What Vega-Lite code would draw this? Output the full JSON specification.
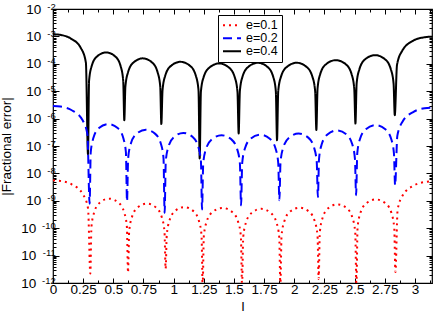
{
  "$schema": "https://vega.github.io/schema/vega-lite/v6.json",
  "width": 379,
  "height": 274,
  "autosize": "none",
  "padding": {"left": 53, "top": 9, "right": 4, "bottom": 30},
  "background": "white",
  "config": {
    "font": "Liberation Sans",
    "view": {"stroke": "black", "strokeWidth": 1.2},
    "axis": {"domain": false, "grid": false, "tickColor": "black", "tickWidth": 1, "labelColor": "black", "titleColor": "black", "labelFontSize": 13.5, "titleFontSize": 13.5, "titleFontWeight": "normal", "labelFont": "Liberation Sans", "titleFont": "Liberation Sans", "labelOverlap": false, "labelFlush": false},
    "legend": {"orient": "none", "legendX": 165, "legendY": 6, "strokeColor": "black", "fillColor": "white", "padding": 4, "symbolType": "stroke", "symbolStrokeWidth": 2, "symbolSize": 324, "labelFontSize": 12.5, "labelFont": "Liberation Sans", "labelColor": "black", "rowPadding": 0, "clipHeight": 12.7, "title": null, "cornerRadius": 0}
  },
  "data": {"values": [
    {"e":"e=0.4","l":0,"err":1.2e-3},{"e":"e=0.4","l":0.058,"err":1.14e-3},{"e":"e=0.4","l":0.145,"err":8.5e-4},{"e":"e=0.4","l":0.232,"err":3.7e-4},{"e":"e=0.4","l":0.2726,"err":1.1e-4},{"e":"e=0.4","l":0.290,"err":5.0e-8},
    {"e":"e=0.4","l":0.299,"err":2.4e-5},{"e":"e=0.4","l":0.320,"err":8.1e-5},{"e":"e=0.4","l":0.365,"err":1.85e-4},{"e":"e=0.4","l":0.4405,"err":2.6e-4},{"e":"e=0.4","l":0.516,"err":1.85e-4},{"e":"e=0.4","l":0.561,"err":8.1e-5},{"e":"e=0.4","l":0.582,"err":2.4e-5},{"e":"e=0.4","l":0.591,"err":8.7e-7},
    {"e":"e=0.4","l":0.600,"err":1.47e-5},{"e":"e=0.4","l":0.622,"err":4.9e-5},{"e":"e=0.4","l":0.668,"err":1.12e-4},{"e":"e=0.4","l":0.7445,"err":1.58e-4},{"e":"e=0.4","l":0.821,"err":1.12e-4},{"e":"e=0.4","l":0.867,"err":4.9e-5},{"e":"e=0.4","l":0.889,"err":1.47e-5},{"e":"e=0.4","l":0.898,"err":6.3e-7},
    {"e":"e=0.4","l":0.908,"err":1.1e-5},{"e":"e=0.4","l":0.930,"err":3.66e-5},{"e":"e=0.4","l":0.978,"err":8.4e-5},{"e":"e=0.4","l":1.057,"err":1.18e-4},{"e":"e=0.4","l":1.1365,"err":8.4e-5},{"e":"e=0.4","l":1.184,"err":3.66e-5},{"e":"e=0.4","l":1.206,"err":1.1e-5},{"e":"e=0.4","l":1.216,"err":3.5e-8},
    {"e":"e=0.4","l":1.226,"err":9.6e-6},{"e":"e=0.4","l":1.248,"err":3.2e-5},{"e":"e=0.4","l":1.297,"err":7.3e-5},{"e":"e=0.4","l":1.3775,"err":1.03e-4},{"e":"e=0.4","l":1.458,"err":7.3e-5},{"e":"e=0.4","l":1.507,"err":3.2e-5},{"e":"e=0.4","l":1.529,"err":9.6e-6},{"e":"e=0.4","l":1.539,"err":2.85e-7},
    {"e":"e=0.4","l":1.549,"err":1.01e-5},{"e":"e=0.4","l":1.571,"err":3.4e-5},{"e":"e=0.4","l":1.6185,"err":7.7e-5},{"e":"e=0.4","l":1.698,"err":1.09e-4},{"e":"e=0.4","l":1.7775,"err":7.7e-5},{"e":"e=0.4","l":1.825,"err":3.4e-5},{"e":"e=0.4","l":1.847,"err":1.01e-5},{"e":"e=0.4","l":1.857,"err":1.62e-7},
    {"e":"e=0.4","l":1.867,"err":1.01e-5},{"e":"e=0.4","l":1.890,"err":3.4e-5},{"e":"e=0.4","l":1.9385,"err":7.7e-5},{"e":"e=0.4","l":2.020,"err":1.09e-4},{"e":"e=0.4","l":2.1015,"err":7.7e-5},{"e":"e=0.4","l":2.150,"err":3.4e-5},{"e":"e=0.4","l":2.173,"err":1.01e-5},{"e":"e=0.4","l":2.183,"err":3.8e-7},
    {"e":"e=0.4","l":2.193,"err":1.26e-5},{"e":"e=0.4","l":2.215,"err":4.2e-5},{"e":"e=0.4","l":2.264,"err":9.7e-5},{"e":"e=0.4","l":2.345,"err":1.36e-4},{"e":"e=0.4","l":2.426,"err":9.7e-5},{"e":"e=0.4","l":2.475,"err":4.2e-5},{"e":"e=0.4","l":2.497,"err":1.26e-5},{"e":"e=0.4","l":2.507,"err":6.6e-7},
    {"e":"e=0.4","l":2.517,"err":1.93e-5},{"e":"e=0.4","l":2.540,"err":6.4e-5},{"e":"e=0.4","l":2.5885,"err":1.47e-4},{"e":"e=0.4","l":2.670,"err":2.07e-4},{"e":"e=0.4","l":2.7515,"err":1.47e-4},{"e":"e=0.4","l":2.800,"err":6.4e-5},{"e":"e=0.4","l":2.823,"err":1.93e-5},{"e":"e=0.4","l":2.833,"err":1.33e-6},
    {"e":"e=0.4","l":2.8515,"err":9.1e-5},{"e":"e=0.4","l":2.895,"err":3.0e-4},{"e":"e=0.4","l":2.987,"err":7.0e-4},{"e":"e=0.4","l":3.080,"err":9.3e-4},{"e":"e=0.4","l":3.1416,"err":9.8e-4},

    {"e":"e=0.2","l":0,"err":2.9e-6},{"e":"e=0.2","l":0.061,"err":2.76e-6},{"e":"e=0.2","l":0.152,"err":2.06e-6},{"e":"e=0.2","l":0.243,"err":9.0e-7},{"e":"e=0.2","l":0.2853,"err":2.7e-7},{"e":"e=0.2","l":0.3035,"err":7.8e-10},
    {"e":"e=0.2","l":0.3128,"err":5.9e-8},{"e":"e=0.2","l":0.3345,"err":1.95e-7},{"e":"e=0.2","l":0.381,"err":4.5e-7},{"e":"e=0.2","l":0.4586,"err":6.3e-7},{"e":"e=0.2","l":0.536,"err":4.5e-7},{"e":"e=0.2","l":0.5826,"err":1.95e-7},{"e":"e=0.2","l":0.6043,"err":5.9e-8},{"e":"e=0.2","l":0.6136,"err":9.5e-10},
    {"e":"e=0.2","l":0.623,"err":3.6e-8},{"e":"e=0.2","l":0.6448,"err":1.21e-7},{"e":"e=0.2","l":0.6916,"err":2.77e-7},{"e":"e=0.2","l":0.7695,"err":3.9e-7},{"e":"e=0.2","l":0.8475,"err":2.77e-7},{"e":"e=0.2","l":0.8942,"err":1.21e-7},{"e":"e=0.2","l":0.916,"err":3.6e-8},{"e":"e=0.2","l":0.9254,"err":3.6e-10},
    {"e":"e=0.2","l":0.9347,"err":2.8e-8},{"e":"e=0.2","l":0.9564,"err":9.3e-8},{"e":"e=0.2","l":1.003,"err":2.13e-7},{"e":"e=0.2","l":1.0805,"err":3.0e-7},{"e":"e=0.2","l":1.158,"err":2.13e-7},{"e":"e=0.2","l":1.2045,"err":9.3e-8},{"e":"e=0.2","l":1.2262,"err":2.8e-8},{"e":"e=0.2","l":1.2355,"err":4.8e-10},
    {"e":"e=0.2","l":1.2452,"err":2.3e-8},{"e":"e=0.2","l":1.2678,"err":7.7e-8},{"e":"e=0.2","l":1.3164,"err":1.75e-7},{"e":"e=0.2","l":1.3972,"err":2.47e-7},{"e":"e=0.2","l":1.478,"err":1.75e-7},{"e":"e=0.2","l":1.5266,"err":7.7e-8},{"e":"e=0.2","l":1.5492,"err":2.3e-8},{"e":"e=0.2","l":1.5589,"err":6.8e-10},
    {"e":"e=0.2","l":1.5684,"err":2.4e-8},{"e":"e=0.2","l":1.5907,"err":8.1e-8},{"e":"e=0.2","l":1.6383,"err":1.85e-7},{"e":"e=0.2","l":1.7177,"err":2.6e-7},{"e":"e=0.2","l":1.7971,"err":1.85e-7},{"e":"e=0.2","l":1.8447,"err":8.1e-8},{"e":"e=0.2","l":1.867,"err":2.4e-8},{"e":"e=0.2","l":1.8765,"err":1.05e-9},
    {"e":"e=0.2","l":1.8861,"err":2.65e-8},{"e":"e=0.2","l":1.9084,"err":8.8e-8},{"e":"e=0.2","l":1.9563,"err":2.02e-7},{"e":"e=0.2","l":2.0361,"err":2.85e-7},{"e":"e=0.2","l":2.1159,"err":2.02e-7},{"e":"e=0.2","l":2.1638,"err":8.8e-8},{"e":"e=0.2","l":2.1861,"err":2.65e-8},{"e":"e=0.2","l":2.1957,"err":1.38e-9},
    {"e":"e=0.2","l":2.2052,"err":3.4e-8},{"e":"e=0.2","l":2.2274,"err":1.15e-7},{"e":"e=0.2","l":2.2749,"err":2.63e-7},{"e":"e=0.2","l":2.354,"err":3.7e-7},{"e":"e=0.2","l":2.4332,"err":2.63e-7},{"e":"e=0.2","l":2.4807,"err":1.15e-7},{"e":"e=0.2","l":2.5029,"err":3.4e-8},{"e":"e=0.2","l":2.5124,"err":1.6e-9},
    {"e":"e=0.2","l":2.5221,"err":5.4e-8},{"e":"e=0.2","l":2.5447,"err":1.8e-7},{"e":"e=0.2","l":2.5933,"err":4.1e-7},{"e":"e=0.2","l":2.6741,"err":5.8e-7},{"e":"e=0.2","l":2.7549,"err":4.1e-7},{"e":"e=0.2","l":2.8035,"err":1.8e-7},{"e":"e=0.2","l":2.8261,"err":5.4e-8},{"e":"e=0.2","l":2.8358,"err":3.7e-9},
    {"e":"e=0.2","l":2.8541,"err":2.33e-7},{"e":"e=0.2","l":2.897,"err":7.7e-7},{"e":"e=0.2","l":2.9887,"err":1.77e-6},{"e":"e=0.2","l":3.0804,"err":2.38e-6},{"e":"e=0.2","l":3.1416,"err":2.5e-6},

    {"e":"e=0.1","l":0,"err":5.6e-9},{"e":"e=0.1","l":0.0619,"err":5.33e-9},{"e":"e=0.1","l":0.1547,"err":3.98e-9},{"e":"e=0.1","l":0.2474,"err":1.74e-9},{"e":"e=0.1","l":0.2907,"err":5.2e-10},{"e":"e=0.1","l":0.3093,"err":2.2e-12},
    {"e":"e=0.1","l":0.3187,"err":1.12e-10},{"e":"e=0.1","l":0.3406,"err":3.7e-10},{"e":"e=0.1","l":0.3875,"err":8.5e-10},{"e":"e=0.1","l":0.4656,"err":1.2e-9},{"e":"e=0.1","l":0.5438,"err":8.5e-10},{"e":"e=0.1","l":0.5906,"err":3.7e-10},{"e":"e=0.1","l":0.6125,"err":1.12e-10},{"e":"e=0.1","l":0.6219,"err":2.4e-12},
    {"e":"e=0.1","l":0.6313,"err":7.4e-11},{"e":"e=0.1","l":0.6531,"err":2.45e-10},{"e":"e=0.1","l":0.6999,"err":5.6e-10},{"e":"e=0.1","l":0.7778,"err":7.9e-10},{"e":"e=0.1","l":0.8558,"err":5.6e-10},{"e":"e=0.1","l":0.9025,"err":2.45e-10},{"e":"e=0.1","l":0.9243,"err":7.4e-11},{"e":"e=0.1","l":0.9337,"err":3.3e-12},
    {"e":"e=0.1","l":0.9429,"err":5.5e-11},{"e":"e=0.1","l":0.9644,"err":1.83e-10},{"e":"e=0.1","l":1.0104,"err":4.2e-10},{"e":"e=0.1","l":1.0871,"err":5.9e-10},{"e":"e=0.1","l":1.1638,"err":4.2e-10},{"e":"e=0.1","l":1.2098,"err":1.83e-10},{"e":"e=0.1","l":1.2313,"err":5.5e-11},{"e":"e=0.1","l":1.2405,"err":8e-13},
    {"e":"e=0.1","l":1.2503,"err":5.1e-11},{"e":"e=0.1","l":1.2732,"err":1.7e-10},{"e":"e=0.1","l":1.3222,"err":3.9e-10},{"e":"e=0.1","l":1.4039,"err":5.5e-10},{"e":"e=0.1","l":1.4855,"err":3.9e-10},{"e":"e=0.1","l":1.5345,"err":1.7e-10},{"e":"e=0.1","l":1.5574,"err":5.1e-11},{"e":"e=0.1","l":1.5672,"err":8e-13},
    {"e":"e=0.1","l":1.5767,"err":4.7e-11},{"e":"e=0.1","l":1.599,"err":1.58e-10},{"e":"e=0.1","l":1.6466,"err":3.6e-10},{"e":"e=0.1","l":1.726,"err":5.1e-10},{"e":"e=0.1","l":1.8054,"err":3.6e-10},{"e":"e=0.1","l":1.853,"err":1.58e-10},{"e":"e=0.1","l":1.8753,"err":4.7e-11},{"e":"e=0.1","l":1.8848,"err":8e-13},
    {"e":"e=0.1","l":1.8943,"err":5.2e-11},{"e":"e=0.1","l":1.9166,"err":1.74e-10},{"e":"e=0.1","l":1.9642,"err":4.0e-10},{"e":"e=0.1","l":2.0436,"err":5.6e-10},{"e":"e=0.1","l":2.1229,"err":4.0e-10},{"e":"e=0.1","l":2.1706,"err":1.74e-10},{"e":"e=0.1","l":2.1928,"err":5.2e-11},{"e":"e=0.1","l":2.2023,"err":1.4e-12},
    {"e":"e=0.1","l":2.2117,"err":6.9e-11},{"e":"e=0.1","l":2.2336,"err":2.3e-10},{"e":"e=0.1","l":2.2805,"err":5.3e-10},{"e":"e=0.1","l":2.3586,"err":7.4e-10},{"e":"e=0.1","l":2.4368,"err":5.3e-10},{"e":"e=0.1","l":2.4836,"err":2.3e-10},{"e":"e=0.1","l":2.5055,"err":6.9e-11},{"e":"e=0.1","l":2.5149,"err":8e-13},
    {"e":"e=0.1","l":2.5246,"err":1.04e-10},{"e":"e=0.1","l":2.5472,"err":3.5e-10},{"e":"e=0.1","l":2.5958,"err":8.0e-10},{"e":"e=0.1","l":2.6766,"err":1.12e-9},{"e":"e=0.1","l":2.7574,"err":8.0e-10},{"e":"e=0.1","l":2.806,"err":3.5e-10},{"e":"e=0.1","l":2.8286,"err":1.04e-10},{"e":"e=0.1","l":2.8383,"err":2.5e-12},
    {"e":"e=0.1","l":2.8565,"err":4.7e-10},{"e":"e=0.1","l":2.899,"err":1.58e-9},{"e":"e=0.1","l":2.99,"err":3.6e-9},{"e":"e=0.1","l":3.0809,"err":4.85e-9},{"e":"e=0.1","l":3.1416,"err":5.1e-9}
  ]},
  "layer": [
    {
      "mark": {"type": "point", "opacity": 0, "size": 0},
      "encoding": {
        "x": {"field": "l", "type": "quantitative", "scale": {"domain": [0, 3.1416], "nice": false, "zero": false},
          "axis": {"orient": "top", "labels": false, "title": null, "values": [0,0.125,0.25,0.375,0.5,0.625,0.75,0.875,1,1.125,1.25,1.375,1.5,1.625,1.75,1.875,2,2.125,2.25,2.375,2.5,2.625,2.75,2.875,3,3.125],
            "tickSize": {"condition": {"test": "abs(datum.value*4-round(datum.value*4))<0.001", "value": -5}, "value": -3}}},
        "y": {"field": "err", "type": "quantitative", "scale": {"type": "log", "domain": [1e-12, 1e-2], "nice": false},
          "axis": {"orient": "right", "labels": false, "title": null, "tickCount": 100,
            "tickSize": {"condition": {"test": "abs(log(datum.value)/LN10-round(log(datum.value)/LN10))<0.01", "value": -6}, "value": -3}}}
      }
    },
    {
      "mark": {"type": "point", "opacity": 0, "size": 0},
      "encoding": {
        "y": {"field": "err", "type": "quantitative",
          "axis": {"orient": "left", "ticks": false, "title": "|Fractional error|", "titlePadding": 7,
            "values": [1e-12,1e-11,1e-10,1e-9,1e-8,1e-7,1e-6,1e-5,1e-4,1e-3,1e-2],
            "labelExpr": "'10'", "labelAlign": "right", "labelBaseline": "middle", "labelFontSize": 13.5,
            "labelPadding": {"condition": {"test": "datum.value < 2e-10", "value": 17.2}, "value": 12.2}}}
      }
    },
    {
      "mark": {"type": "line", "interpolate": "monotone", "clip": true, "strokeWidth": 2},
      "encoding": {
        "x": {"field": "l", "type": "quantitative",
          "axis": {"orient": "bottom", "title": "l", "labelPadding": 4, "titlePadding": 2, "values": [0,0.125,0.25,0.375,0.5,0.625,0.75,0.875,1,1.125,1.25,1.375,1.5,1.625,1.75,1.875,2,2.125,2.25,2.375,2.5,2.625,2.75,2.875,3,3.125],
            "labelExpr": "abs(datum.value*4-round(datum.value*4))<0.001 ? format(datum.value, '.2~f') : ''",
            "tickSize": {"condition": {"test": "abs(datum.value*4-round(datum.value*4))<0.001", "value": -5}, "value": -3}}},
        "y": {"field": "err", "type": "quantitative",
          "axis": {"orient": "left", "title": null, "tickCount": 100,
            "labelExpr": "abs(log(datum.value)/LN10-round(log(datum.value)/LN10))>0.01 ? '' : '' + round(log(datum.value)/LN10)",
            "labelAlign": "right", "labelBaseline": "middle", "labelPadding": 3.7, "labelOffset": -3, "labelFontSize": 9.5,
            "tickSize": {"condition": {"test": "abs(log(datum.value)/LN10-round(log(datum.value)/LN10))<0.01", "value": -6}, "value": -3}}},
        "color": {"field": "e", "type": "nominal", "scale": {"domain": ["e=0.1", "e=0.2", "e=0.4"], "range": ["#ff0000", "#0000ff", "#000000"]}},
        "strokeDash": {"field": "e", "type": "nominal", "scale": {"domain": ["e=0.1", "e=0.2", "e=0.4"], "range": [[2, 4], [9, 5], [1, 0]]}}
      }
    }
  ],
  "resolve": {"axis": {"x": "independent", "y": "independent"}}
}
